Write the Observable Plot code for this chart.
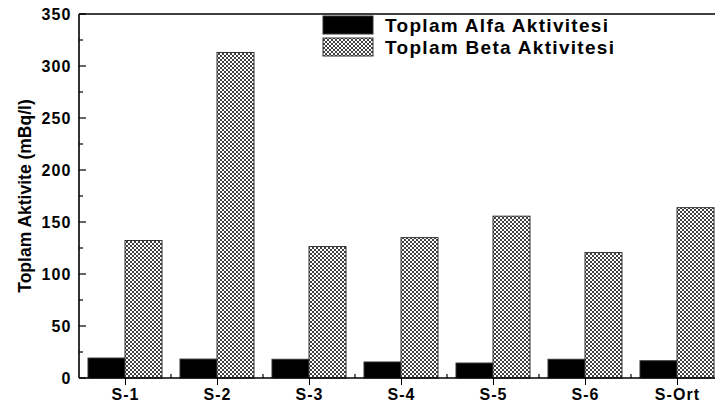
<!DOCTYPE html>
<html><head><meta charset="utf-8">
<script src="https://cdn.jsdelivr.net/npm/d3@7"></script>
<script src="https://cdn.jsdelivr.net/npm/@observablehq/plot@0.6"></script>
<style>
html,body{margin:0;padding:0;background:#fff;}
#chart{width:715px;height:408px;overflow:hidden;}
svg{display:block;}
</style></head><body><div id="chart"></div>
<script>
const categories = ["S-1", "S-2", "S-3", "S-4", "S-5", "S-6", "S-Ort"];
const alfaValues = [19.2, 18.2, 18.0, 15.4, 14.4, 18.0, 16.6];
const betaValues = [132.2, 313.0, 126.4, 135.0, 155.6, 120.6, 163.8];
const seriesNames = ["Toplam Alfa Aktivitesi", "Toplam Beta Aktivitesi"];
const yMajorTicks = [0, 50, 100, 150, 200, 250, 300, 350];
const yMinorTicks = [25, 75, 125, 175, 225, 275, 325];
const yLabel = "Toplam Aktivite (mBq/l)";

const data = categories.flatMap((c, i) => [
  {cat: c, series: seriesNames[0], value: alfaValues[i]},
  {cat: c, series: seriesNames[1], value: betaValues[i]}
]);

const plot = Plot.plot({
  width: 715, height: 408,
  marginLeft: 79, marginRight: -7, marginTop: 14, marginBottom: 30,
  style: {fontFamily: "'Liberation Sans', Arial, sans-serif", fontWeight: "bold", fontSize: "16px", color: "#000", background: "#fff"},
  fx: {domain: categories, paddingInner: 0.023, paddingOuter: 0, label: null},
  x: {domain: seriesNames, padding: 0, insetLeft: 8, insetRight: 8, axis: null},
  y: {domain: [0, 350], axis: null},
  color: {type: "ordinal", domain: seriesNames, range: ["#000", "url(#betaHatch)"]},
  marks: [
    Plot.barY(data, {fx: "cat", x: "series", y: "value", fill: "series", stroke: "#333", strokeWidth: 1}),
    Plot.axisFx({anchor: "bottom", tickSize: 7, tickPadding: 3, label: null, fontSize: 16}),
    Plot.axisY({ticks: yMajorTicks, tickSize: 0, tickPadding: 9, label: null, fontSize: 16, facetAnchor: "left"})
  ]
});

const svg = d3.select(plot);
svg.insert("defs", ":first-child").html(
  '<pattern id="betaHatch" patternUnits="userSpaceOnUse" width="4" height="4">' +
  '<rect width="4" height="4" fill="#fff"/>' +
  '<path d="M0,0L4,4M4,0L0,4" stroke="#2a2a2a" stroke-width="0.9"/>' +
  '</pattern>'
);
svg.selectAll("text").attr("letter-spacing", "1.1px").attr("fill", "#000");

const fx = plot.scale("fx");
const ys = plot.scale("y");
const y0 = ys.apply(0), yTop = ys.apply(350);
const xLeft = fx.range[0], xRight = fx.range[1];

// frame lines (bottom, top, left)
const frame = svg.append("g").attr("stroke", "#000").attr("stroke-width", 1.6).attr("fill", "none");
frame.append("path").attr("d", `M${xLeft},${yTop}H${xRight}M${xLeft},${y0}H${xRight}M${xLeft},${yTop}V${y0}`);

// inward y ticks (major and minor) from the y scale
const ticks = svg.append("g").attr("stroke", "#000").attr("stroke-width", 1.2);
yMajorTicks.forEach(v => ticks.append("line").attr("x1", xLeft).attr("x2", xLeft + 7).attr("y1", ys.apply(v)).attr("y2", ys.apply(v)));
yMinorTicks.forEach(v => ticks.append("line").attr("x1", xLeft).attr("x2", xLeft + 4).attr("y1", ys.apply(v)).attr("y2", ys.apply(v)));

// minor x ticks between categories
const gap = fx.step - fx.bandwidth;
categories.slice(1).forEach(c => {
  const xb = fx.apply(c) - gap / 2;
  ticks.append("line").attr("x1", xb).attr("x2", xb).attr("y1", y0).attr("y2", y0 - 4);
});

// y axis title
svg.append("text")
  .attr("transform", `translate(24.5,${(y0 + yTop) / 2}) rotate(-90)`)
  .attr("text-anchor", "middle").attr("dominant-baseline", "central")
  .style("font-size", "17.5px").style("font-weight", "bold").attr("fill", "#000")
  .text(yLabel);

// legend
const lg = svg.append("g");
seriesNames.forEach((name, i) => {
  const yy = 16 + i * 22;
  lg.append("rect").attr("x", 323).attr("y", yy).attr("width", 50).attr("height", 18)
    .attr("fill", i === 0 ? "#000" : "url(#betaHatch)").attr("stroke", "#333").attr("stroke-width", 1);
  lg.append("text").attr("x", 385).attr("y", yy + 9).attr("dominant-baseline", "central")
    .attr("text-anchor", "start")
    .style("font-size", "19px").style("font-weight", "bold")
    .attr("letter-spacing", "1.3px").attr("fill", "#000").text(name);
});

document.getElementById("chart").appendChild(plot);
</script></body></html>
